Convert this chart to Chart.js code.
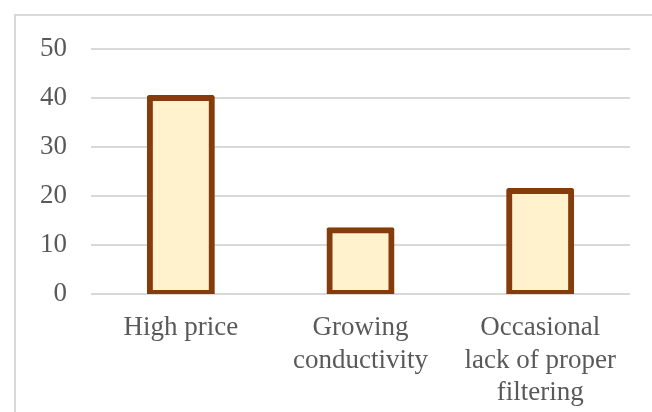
<!DOCTYPE html>
<html>
<head>
<meta charset="utf-8">
<script src="https://cdn.jsdelivr.net/npm/chart.js@4/dist/chart.umd.min.js"></script>
<style>
  html, body { margin: 0; padding: 0; background: #ffffff; overflow: hidden; }
  #wrap { position: relative; width: 652px; height: 412px; }
  #frame {
    position: absolute; left: 14px; top: 14px; width: 660px; height: 420px;
    border-left: 2px solid #d9d9d9; border-top: 2px solid #d9d9d9;
    pointer-events: none;
  }
  canvas { position: absolute; left: 0; top: 0; }
</style>
</head>
<body>
<div id="wrap">
  <canvas id="chart" width="652" height="412"></canvas>
  <div id="frame"></div>
</div>
<script>
// Drawbacks and how often they were named
const categories = [
  ['High price'],
  ['Growing', 'conductivity'],
  ['Occasional', 'lack of proper', 'filtering']
];
const counts = [40, 13, 21];
const yTicks = [0, 10, 20, 30, 40, 50];

const textColor = '#595959';
const serif = '"Liberation Serif", "Times New Roman", serif';

new Chart(document.getElementById('chart'), {
  type: 'bar',
  data: {
    labels: categories,
    datasets: [{
      data: counts,
      backgroundColor: '#FFF2CC',
      borderColor: '#843C0C',
      borderWidth: 6,
      borderRadius: 2,
      borderSkipped: false,
      // grow the bar outward so the outline sits centred on the value edge
      inflateAmount: 3,
      categoryPercentage: 1,
      barPercentage: 0.345
    }]
  },
  options: {
    responsive: false,
    animation: false,
    layout: { padding: { top: 49, right: 22, bottom: 0, left: 0 } },
    plugins: { legend: { display: false }, tooltip: { enabled: false } },
    scales: {
      x: {
        grid: { display: false },
        border: { display: false },
        ticks: {
          color: textColor,
          font: { family: serif, size: 27, lineHeight: 1.2 },
          padding: 10,
          maxRotation: 0,
          autoSkip: false
        },
        afterFit: (s) => { s.height = 118; }
      },
      y: {
        min: 0,
        max: 50,
        afterBuildTicks: (s) => { s.ticks = yTicks.map(v => ({ value: v })); },
        grid: { color: '#d9d9d9', lineWidth: 2, drawTicks: false },
        border: { display: false },
        ticks: {
          color: textColor,
          font: { family: serif, size: 27 },
          padding: 24
        },
        afterFit: (s) => { s.width = 91; }
      }
    }
  }
});
</script>
</body>
</html>
